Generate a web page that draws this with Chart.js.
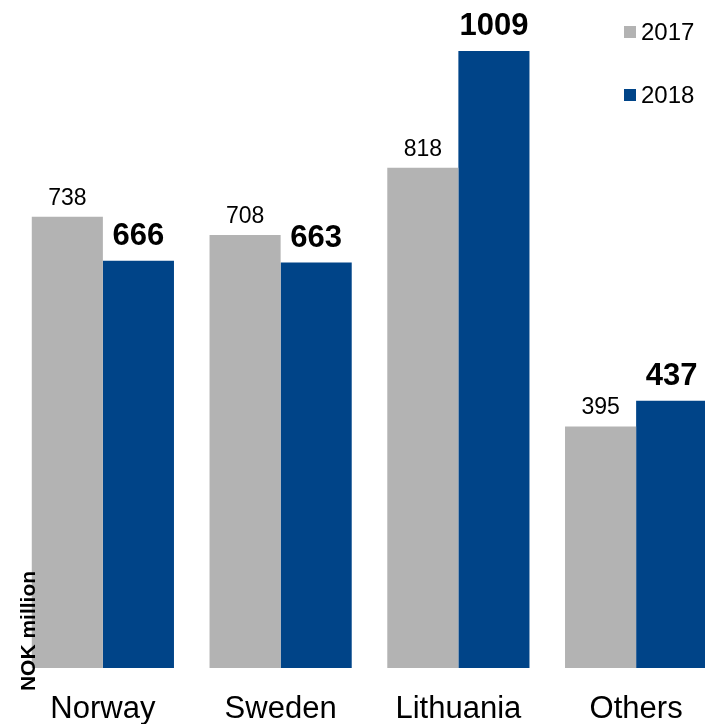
<!DOCTYPE html>
<html lang="en">
<head>
    <meta charset="UTF-8">
    <title>NOK million by country</title>
    <script src="https://cdn.jsdelivr.net/npm/chart.js"></script>
    <style>
        html, body {
            margin: 0;
            padding: 0;
            background: #ffffff;
            overflow: hidden;
        }

        canvas {
            display: block;
        }
    </style>
</head>
<body>
    <canvas id="salesChart" width="725" height="724"></canvas>
    <script>
        const countries = ['Norway', 'Sweden', 'Lithuania', 'Others'];
        const years = ['2017', '2018'];
        const values2017 = [738, 708, 818, 395];
        const values2018 = [666, 663, 1009, 437];
        const unitLabel = 'NOK million';

        const FONT = '"Liberation Sans", Arial, sans-serif';
        const GREY = '#b3b3b3';
        const BLUE = '#004488';

        // value labels above each bar (2018 in bold)
        const valueLabels = {
            id: 'valueLabels',
            afterDatasetsDraw(chart) {
                const ctx = chart.ctx;
                ctx.save();
                ctx.fillStyle = '#000000';
                ctx.textAlign = 'center';
                ctx.textBaseline = 'alphabetic';
                chart.data.datasets.forEach((ds, i) => {
                    const meta = chart.getDatasetMeta(i);
                    const bold = i === 1;
                    ctx.font = bold ? 'bold 31px ' + FONT : '23px ' + FONT;
                    meta.data.forEach((bar, j) => {
                        ctx.fillText(String(ds.data[j]), bar.x, bar.y - (bold ? 16 : 12));
                    });
                });

                // unit text, rotated, on the left
                ctx.font = 'bold 21px ' + FONT;
                ctx.textBaseline = 'middle';
                ctx.translate(29, 631);
                ctx.rotate(-Math.PI / 2);
                ctx.fillText(unitLabel, 0, 0);
                ctx.restore();
            }
        };

        // small legend in the top right corner
        const cornerLegend = {
            id: 'cornerLegend',
            afterDraw(chart) {
                const ctx = chart.ctx;
                ctx.save();
                ctx.font = '24px ' + FONT;
                ctx.textAlign = 'left';
                ctx.textBaseline = 'middle';
                chart.data.datasets.forEach((ds, i) => {
                    const cy = 32 + i * 63;
                    ctx.fillStyle = ds.backgroundColor;
                    ctx.fillRect(624, cy - 6, 12, 12);
                    ctx.fillStyle = '#000000';
                    ctx.fillText(ds.label, 641, cy + 1);
                });
                ctx.restore();
            }
        };

        const ctx = document.getElementById('salesChart').getContext('2d');
        new Chart(ctx, {
            type: 'bar',
            data: {
                labels: countries,
                datasets: [
                    { label: years[0], data: values2017, backgroundColor: GREY },
                    { label: years[1], data: values2018, backgroundColor: BLUE }
                ]
            },
            options: {
                responsive: false,
                animation: false,
                categoryPercentage: 0.8,
                barPercentage: 1.0,
                layout: {
                    // x axis reserves more room than the labels need, pull it down
                    padding: { top: 26, left: 14, right: 0, bottom: -28 }
                },
                plugins: {
                    legend: { display: false },
                    tooltip: { enabled: false }
                },
                scales: {
                    x: {
                        grid: { display: false, drawTicks: false },
                        border: { display: false },
                        ticks: {
                            color: '#000000',
                            padding: 25,
                            font: { family: FONT, size: 31, lineHeight: 1.1 }
                        }
                    },
                    y: {
                        display: false,
                        min: 0,
                        max: 1050
                    }
                }
            },
            plugins: [valueLabels, cornerLegend]
        });
    </script>
</body>
</html>
